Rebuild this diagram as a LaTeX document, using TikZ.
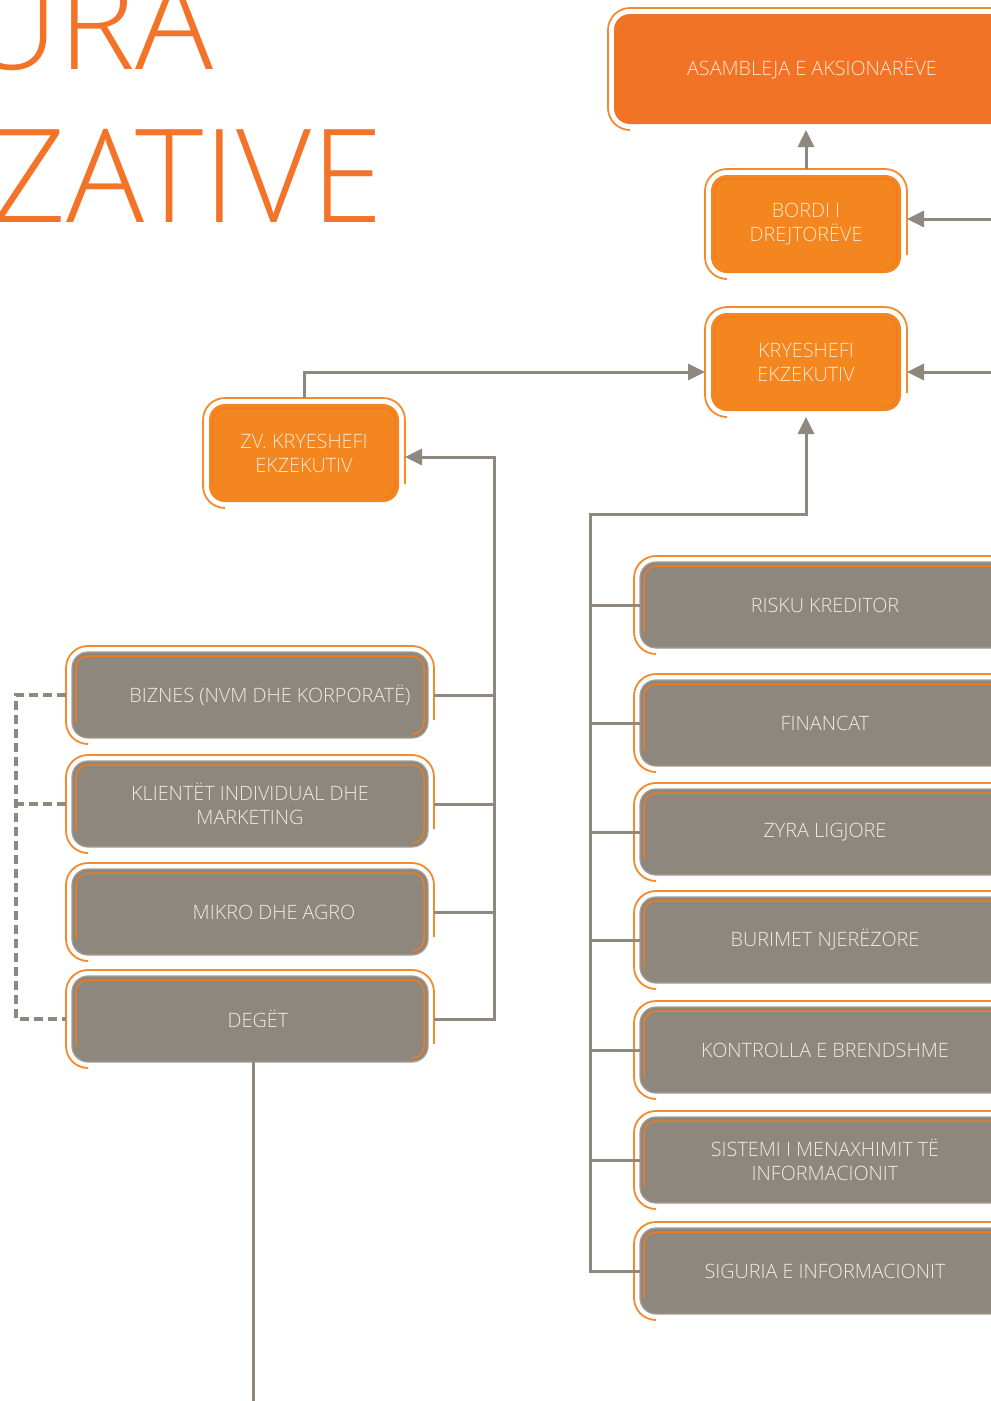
\documentclass[tikz,border=0pt]{standalone}
\usepackage{fontspec}
\setmainfont{Open Sans Light}
\usetikzlibrary{arrows.meta,calc}
\definecolor{boxgray}{HTML}{8E877D}
\definecolor{rimgray}{HTML}{A59E95}
\definecolor{linegray}{HTML}{8F887E}
\definecolor{orangeA}{HTML}{F27226}
\definecolor{orangeB}{HTML}{F4861F}
\definecolor{rimorange}{HTML}{F38A2E}
\definecolor{innerorange}{HTML}{EF7B22}
\definecolor{titleorange}{HTML}{F37329}
\definecolor{txtorange}{HTML}{FDE6CF}
\definecolor{txtgray}{HTML}{EEEBE7}
\tikzset{
  unit/.style={rounded corners=16pt,align=center,inner sep=0pt,outer sep=6pt,
    font=\fontsize{19.8}{24}\selectfont},
  obox/.style={unit,fill=orangeB,text=txtorange,minimum width=190pt,minimum height=98pt},
  topbox/.style={obox,fill=orangeA,minimum width=396pt,minimum height=110pt},
  gbox/.style={unit,fill=boxgray,draw=rimgray,line width=1.2pt,text=txtgray,
    minimum width=356pt,minimum height=86pt},
  rbox/.style={gbox,minimum width=370pt},
  link/.style={draw=linegray,line width=3pt},
  arr/.style={link,-{Triangle[length=17pt,width=16pt]}},
  dashlink/.style={draw=linegray,line width=4pt,dash pattern=on 9pt off 5pt},
  rimline/.style={draw=rimorange,line width=1.8pt,rounded corners=22pt},
  innerline/.style={draw=innerorange,line width=1.5pt,rounded corners=12pt}
}
% orange double frame round a box
\newcommand{\unitframe}[1]{%
  \draw[rimline] ($(#1.south west)+(22,0)$) -- (#1.south west) -- (#1.north west)
    -- (#1.north east) -- ($(#1.south east)+(0,-24)$);
  \draw[innerline] ($(#1.south west)+(10,-22)$) -- ($(#1.north west)+(10,10)$)
    -- ($(#1.north east)+(-10,10)$) -- ($(#1.south east)+(-10,-10)$)
    -- ($(#1.south east)+(-22,-10)$);
}
\begin{document}
\begin{tikzpicture}[x=1pt,y=-1pt]
  \useasboundingbox (0,0) rectangle (991,1401);
  \clip (0,0) rectangle (991,1401);
  % Title
  \node[anchor=base east,inner sep=0pt,text=titleorange,
    font=\fontsize{130}{150}\selectfont] (titleA) at (214,69) {URA};
  \node[anchor=base east,inner sep=0pt,text=titleorange,
    font=\fontsize{130}{150}\selectfont] (titleB) at (383,222) {ZATIVE};
  % Top of the chart
  \node[topbox] (asamb) at (812,69) {ASAMBLEJA E AKSIONARËVE};
  \node[obox] (bordi) at (806,224) {BORDI I\\DREJTORËVE};
  \node[obox] (krye) at (806,362) {KRYESHEFI\\EKZEKUTIV};
  \node[obox] (zv) at (304,453) {ZV. KRYESHEFI\\EKZEKUTIV};
  % Business lines
  \node[gbox] (biz) at (250,695) {\hspace*{40pt}BIZNES (NVM DHE KORPORATË)};
  \node[gbox] (kli) at (250,804) {KLIENTËT INDIVIDUAL DHE\\MARKETING};
  \node[gbox] (mik) at (250,912) {\hspace*{48pt}MIKRO DHE AGRO};
  \node[gbox] (deg) at (250,1019) {\hspace*{16pt}DEGËT};
  % Support units
  \node[rbox] (risk) at (825,605) {RISKU KREDITOR};
  \node[rbox] (fin) at (825,723) {FINANCAT};
  \node[rbox] (zyra) at (825,832) {ZYRA LIGJORE};
  \node[rbox] (bur) at (825,940) {BURIMET NJERËZORE};
  \node[rbox] (kontr) at (825,1050) {KONTROLLA E BRENDSHME};
  \node[rbox] (sist) at (825,1160) {SISTEMI I MENAXHIMIT TË\\INFORMACIONIT};
  \node[rbox] (sig) at (825,1271) {SIGURIA E INFORMACIONIT};
  \foreach \n in {asamb,bordi,krye,zv,biz,kli,mik,deg,risk,fin,zyra,bur,kontr,sist,sig}
    \unitframe{\n};
  % Helper points
  \coordinate (inB) at (991,219);
  \coordinate (inK) at (991,372);
  \coordinate (kin) at ($(krye.west)+(0,10)$);
  \coordinate (busR) at (590,514);
  \coordinate (busL) at (494,457);
  \coordinate (dashx) at (16,0);
  \coordinate (bot) at (253,1401);
  % Connectors
  \draw[arr] (bordi.north) -- (bordi.north |- asamb.south);
  \draw[arr] (inB) -- (inB -| bordi.east);
  \draw[arr] (inK) -- (inK -| krye.east);
  \draw[arr] (zv.north) |- (kin);
  \draw[arr,shorten <=-6pt] (sig.west) -| (busR) -| (krye.south);
  \foreach \n in {risk,fin,zyra,bur,kontr,sist}
    \draw[link,shorten >=-6pt] (\n.west -| busR) -- (\n.west);
  \draw[arr] (deg.east) -| (busL) -- (busL -| zv.east);
  \foreach \n in {biz,kli,mik}
    \draw[link] (\n.east) -- (\n.east -| busL);
  \draw[dashlink] (biz.west) -- (biz.west -| dashx) |- (deg.west);
  \draw[dashlink] (kli.west) -- (kli.west -| dashx);
  \draw[link,shorten <=-6pt] (deg.south -| bot) -- (bot);
\end{tikzpicture}
\end{document}
